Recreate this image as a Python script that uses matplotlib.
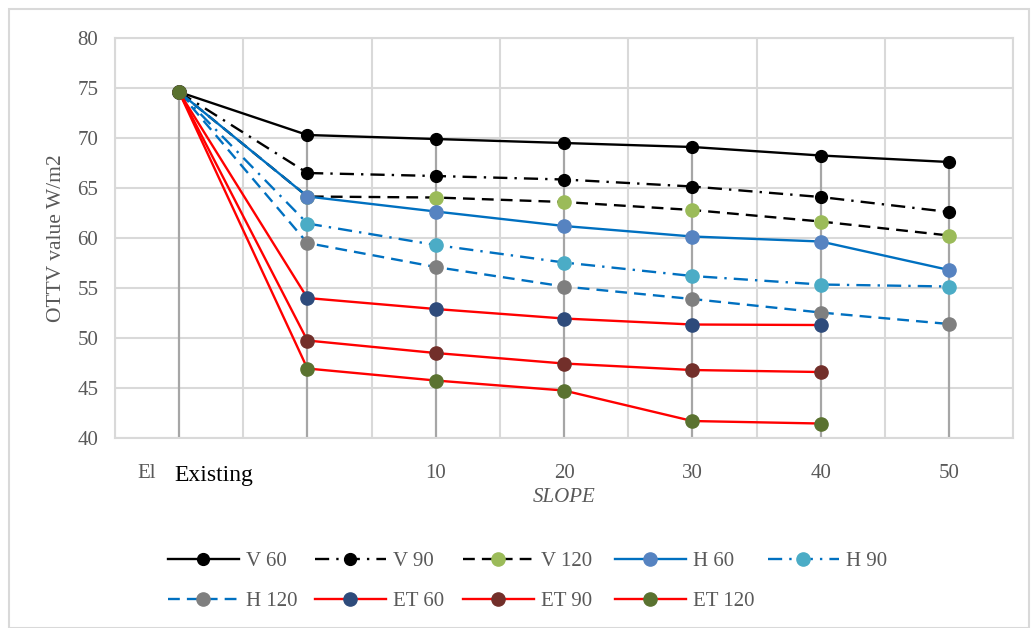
import matplotlib
matplotlib.use("Agg")
import matplotlib.pyplot as plt
import numpy as np

plt.rcParams["font.family"] = ["Liberation Serif", "DejaVu Serif"]

# categories along the x axis (first one is the existing building)
categories = ["Existing", "", "10", "20", "30", "40", "50"]

v60 = [74.6, 70.3, 69.9, 69.5, 69.1, 68.25, 67.6]
v90 = [74.6, 66.5, 66.2, 65.85, 65.15, 64.1, 62.6]
v120 = [74.6, 64.15, 64.05, 63.6, 62.8, 61.65, 60.25]
h60 = [74.6, 64.15, 62.65, 61.2, 60.15, 59.65, 56.8]
h90 = [74.6, 61.45, 59.3, 57.55, 56.2, 55.35, 55.15]
h120 = [74.6, 59.5, 57.1, 55.15, 53.9, 52.55, 51.4]
et60 = [74.6, 54.0, 52.9, 51.95, 51.35, 51.3]
et90 = [74.6, 49.75, 48.5, 47.45, 46.8, 46.6]
et120 = [74.6, 46.95, 45.75, 44.75, 41.7, 41.45]

series = [
    ("V 60", v60, "black", "-", "black", 8.5),
    ("V 90", v90, "black", (0, (6, 3, 1, 3)), "black", 8.5),
    ("V 120", v120, "black", (0, (5, 3)), "#9BBB59", 9.5),
    ("H 60", h60, "#0070C0", "-", "#5683C1", 9.5),
    ("H 90", h90, "#0070C0", (0, (6, 3, 1, 3)), "#4BACC6", 9.5),
    ("H 120", h120, "#0070C0", (0, (5, 3)), "#7F7F7F", 9.5),
    ("ET 60", et60, "#FF0000", "-", "#2E4B7B", 9.5),
    ("ET 90", et90, "#FF0000", "-", "#722F2A", 9.5),
    ("ET 120", et120, "#FF0000", "-", "#5A7230", 9.5),
]

grey_text = "#595959"
grid_col = "#D9D9D9"

fig = plt.figure(figsize=(10.35, 6.28), dpi=100)
ax = fig.add_axes([0.111, 0.3025, 0.868, 0.637])

x = np.arange(len(categories))

# drop lines from the highest point of each category
tops = []
for i in range(len(categories)):
    vals = [s[1][i] for s in series if i < len(s[1])]
    tops.append(max(vals))
ax.vlines(x, 40, tops, color="#A6A6A6", lw=1.6, zorder=2)

handles = {}
for name, vals, lc, ls, mc, ms in series:
    xs = np.arange(len(vals))
    (h,) = ax.plot(xs, vals, color=lc, ls=ls, lw=1.7, marker="o", ms=ms,
                   mfc=mc, mec=mc, label=name, zorder=3)
    handles[name] = h

ax.set_xlim(-0.5, len(categories) - 0.5)
ax.set_ylim(40, 80)
ax.set_yticks(np.arange(40, 81, 5))
ax.set_xticks(np.arange(-0.5, len(categories), 1))
ax.set_xticklabels([])
ax.tick_params(axis="both", length=0, labelsize=15, colors=grey_text, pad=12)
ax.grid(True, color=grid_col, lw=1.5, zorder=0)
for sp in ax.spines.values():
    sp.set_color(grid_col)
    sp.set_linewidth(1.5)

# category labels
for i, lab in enumerate(categories):
    if lab and lab != "Existing":
        ax.text(i, 36.5, lab, ha="center", va="center", fontsize=15, color=grey_text)
ax.text(-0.25, 36.5, "El", ha="center", va="center", fontsize=15, color=grey_text)
ax.text(0.27, 36.3, "Existing", ha="center", va="center", fontsize=17, color="black",
        bbox=dict(facecolor="white", edgecolor="none", pad=1))

ax.set_ylabel("OTTV value W/m2", fontsize=15.5, color=grey_text, labelpad=8)
ax.text(3.0, 34.1, "SLOPE", ha="center", va="center", fontsize=15, style="italic",
        color=grey_text)

# legend laid out in equal-width columns, two rows
legend_rows = [["V 60", "V 90", "V 120", "H 60", "H 90"],
               ["H 120", "ET 60", "ET 90", "ET 120"]]
col_x = [168, 315, 463, 615, 768]
row_y = [561, 601]
W, H = 1035, 628
for r, names in enumerate(legend_rows):
    for c, n in enumerate(names):
        lg = fig.legend([handles[n]], [n], loc="center left",
                        bbox_to_anchor=(col_x[c] / W, 1 - row_y[r] / H),
                        frameon=False, fontsize=15, handlelength=3.4,
                        handletextpad=0.35, borderpad=0, borderaxespad=0)
        for t in lg.get_texts():
            t.set_color(grey_text)

# outer chart border
fig.patches.append(plt.Rectangle((0.009, 0.0), 0.985, 0.986, transform=fig.transFigure,
                                 fill=False, edgecolor=grid_col, lw=1.5))

fig.savefig("out.png", dpi=100)
